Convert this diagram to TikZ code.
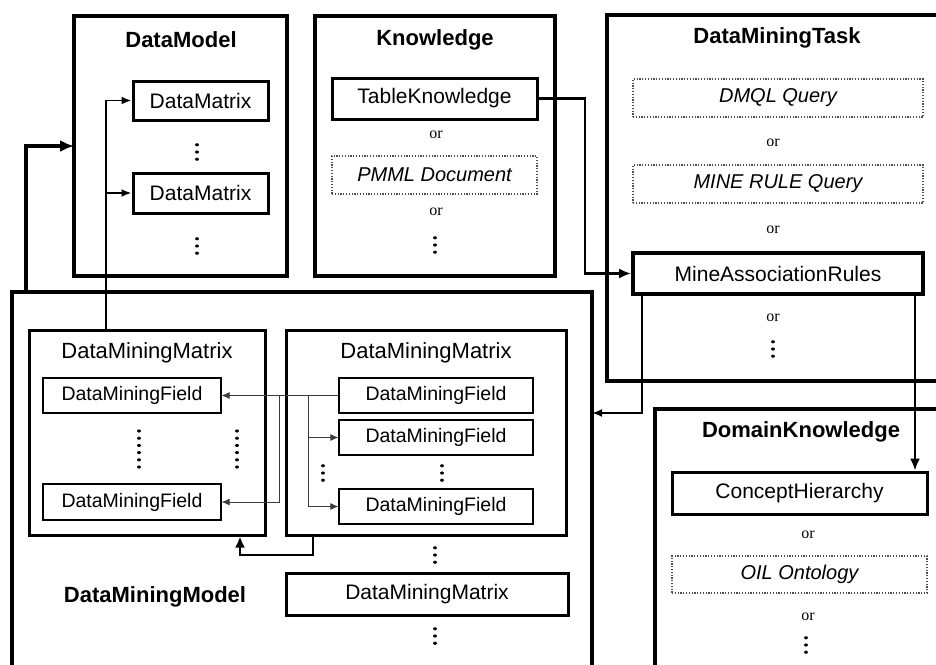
\documentclass[tikz,border=0pt]{standalone}
\usepackage{fontspec}
\setmainfont{Liberation Sans}
\newfontfamily\orserif{Liberation Serif}
\usetikzlibrary{arrows.meta,positioning}
\definecolor{ink}{HTML}{000000}
\definecolor{dotgrey}{HTML}{4D4D4D}
\definecolor{wiregrey}{HTML}{3A3A3A}
\tikzset{>=Latex,
  every node/.style={font=\fontsize{21}{24}\selectfont,inner sep=0pt},
  container/.style={draw=ink,line width=3.6pt,anchor=north west,outer sep=0pt},
  title/.style={font=\bfseries\fontsize{22}{26}\selectfont},
  classbox/.style={draw=ink,line width=3pt},
  heavybox/.style={draw=ink,line width=4pt},
  fieldbox/.style={draw=ink,line width=1.1pt,font=\fontsize{19.5}{22}\selectfont},
  altbox/.style={draw=dotgrey,line width=1.2pt,dash pattern=on 1.2pt off 1.6pt,
    font=\itshape\fontsize{20}{24}\selectfont},
  ortext/.style={font=\orserif\fontsize{16}{18}\selectfont},
  dotcol/.style={draw=ink,line width=3.2pt,line cap=round,dash pattern=on 0.01pt off 7.2pt},
  bigflow/.style={draw=ink,line width=3.5pt,-{Latex[length=14pt,width=12pt]}},
  flow/.style={draw=ink,line width=2.1pt,-{Latex[length=12pt,width=10pt]}},
  thinflow/.style={draw=ink,line width=1.9pt,-{Latex[length=10pt,width=8pt]}},
  matrixflow/.style={draw=ink,line width=2.6pt,-{Latex[length=11pt,width=10pt]}},
  fieldflow/.style={draw=wiregrey,line width=1pt,-{Latex[length=8pt,width=7pt]}}}
\begin{document}
\begin{tikzpicture}[x=1pt,y=-1pt]
\useasboundingbox (0,0) rectangle (936,664);
\clip (0,0) rectangle (936,664);
% containers
\node[container,minimum width=213pt,minimum height=260pt] (datamodel) at (74,16) {};
\node[container,minimum width=240pt,minimum height=260pt] (knowledge) at (315,16) {};
\node[container,minimum width=360pt,minimum height=366pt] (dmtask) at (607,15) {};
\node[container,minimum width=580pt,minimum height=420pt] (dmmodel) at (12,292) {};
\node[container,minimum width=320pt,minimum height=300pt] (domknow) at (655,409) {};
\node[title] (modeltitle) at (181,40) {DataModel};
\node[title] (knowtitle) at (435,40) {Knowledge};
\node[title] (tasktitle) at (777,38) {DataMiningTask};
\node[title] (minemodeltitle) at (155,597) {DataMiningModel};
\node[title] (domtitle) at (801,432) {DomainKnowledge};
% DataModel
\node[classbox,minimum width=135pt,minimum height=39pt] (datamatrixa) at (200.5,100.5) {DataMatrix};
\node[classbox,minimum width=135pt,minimum height=40pt] (datamatrixb) at (200.5,193) {DataMatrix};
% Knowledge
\node[classbox,minimum width=205pt,minimum height=41pt] (tableknow) at (434.5,98.5) {TableKnowledge};
\node[ortext] (knowor) at (436,135) {or};
\node[altbox,minimum width=205pt,minimum height=38pt] (pmml) at (434.5,175) {PMML Document};
\node[ortext] (knowortwo) at (436,212) {or};
% DataMiningTask
\node[altbox,minimum width=290pt,minimum height=38pt] (dmql) at (778,98) {DMQL Query};
\node[ortext] (taskor) at (773,143) {or};
\node[altbox,minimum width=290pt,minimum height=38pt] (mineruleq) at (778,184) {MINE RULE Query};
\node[ortext] (taskortwo) at (773,230) {or};
\node[heavybox,minimum width=290pt,minimum height=41pt] (minerules) at (778,273.5) {MineAssociationRules};
\node[ortext] (taskorthree) at (773,318) {or};
% DataMiningModel
\node[classbox,minimum width=236pt,minimum height=205pt] (leftmatrix) at (147,432.5) {};
\node[font=\fontsize{22}{26}\selectfont] (lefttitle) at (147,353) {DataMiningMatrix};
\node[fieldbox,minimum width=178pt,minimum height=35pt] (lfielda) at (132,395.5) {DataMiningField};
\node[fieldbox,minimum width=178pt,minimum height=36pt] (lfieldb) at (132,502) {DataMiningField};
\node[classbox,minimum width=280pt,minimum height=205pt] (rightmatrix) at (426,432.5) {};
\node[font=\fontsize{22}{26}\selectfont] (righttitle) at (426,353) {DataMiningMatrix};
\node[fieldbox,minimum width=194pt,minimum height=35pt] (rfielda) at (436,395.5) {DataMiningField};
\node[fieldbox,minimum width=194pt,minimum height=35pt] (rfieldb) at (436,437.5) {DataMiningField};
\node[fieldbox,minimum width=194pt,minimum height=35pt] (rfieldc) at (436,506.5) {DataMiningField};
\node[classbox,minimum width=282pt,minimum height=42pt] (lastmatrix) at (427,594) {DataMiningMatrix};
% DomainKnowledge
\node[classbox,minimum width=255pt,minimum height=42pt] (concepthier) at (799.5,493) {ConceptHierarchy};
\node[ortext] (domor) at (808,535) {or};
\node[altbox,minimum width=255pt,minimum height=37pt] (oil) at (799.5,574.5) {OIL Ontology};
\node[ortext] (domortwo) at (808,617) {or};
% vertical dots
\foreach \x/\y in {197/152,197/246,435/245,773/349,323/473,442/473,435/555,435/636,806/645}
  \draw[dotcol] (\x,\y-7.2) -- (\x,\y+7.4);
\draw[dotcol] (139,431) -- (139,467.2);
\draw[dotcol] (237,431) -- (237,467.2);
% connectors
\coordinate (modelrise) at (26,0);
\draw[bigflow] (dmmodel.north -| modelrise) |- (datamodel.west);
\coordinate (matrixrise) at (106,0);
\draw[thinflow] (leftmatrix.north -| matrixrise) |- (datamatrixa.west);
\draw[thinflow] (matrixrise |- datamatrixb.west) -- (datamatrixb.west);
\coordinate (ruleturn) at (585,0);
\draw[flow] (tableknow.east) -- (tableknow.east -| ruleturn) |- (minerules.west);
\coordinate (ruleback) at (642,413);
\draw[thinflow] (minerules.south -| ruleback) |- (dmmodel.east |- ruleback);
\coordinate (ruledown) at (915,0);
\draw[flow] (minerules.south -| ruledown) -- (concepthier.north -| ruledown);
\draw[fieldflow] (rfielda.west) -- (lfielda.east);
\coordinate (leftbus) at (279,0);
\draw[fieldflow] (lfielda.east -| leftbus) |- (lfieldb.east);
\coordinate (rightbus) at (308,0);
\draw[fieldflow] (rfielda.west -| rightbus) |- (rfieldc.west);
\draw[fieldflow] (rightbus |- rfieldb.west) -- (rfieldb.west);
\coordinate (matrixtap) at (313,555);
\coordinate (matrixland) at (240,555);
\draw[matrixflow] (rightmatrix.south -| matrixtap) -- (matrixtap) -- (matrixland) -- (leftmatrix.south -| matrixland);
\end{tikzpicture}
\end{document}
